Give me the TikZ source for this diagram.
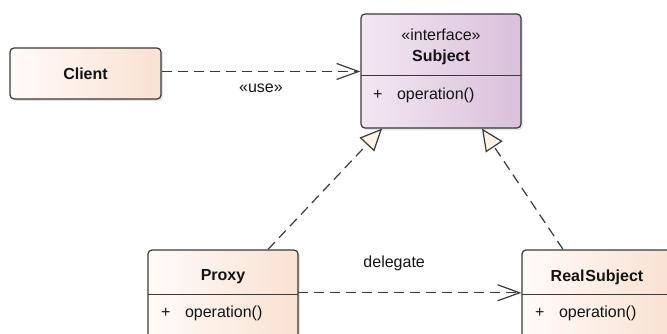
\documentclass[tikz,border=0pt]{standalone}
\usepackage{fontspec}
\setmainfont{Liberation Sans}
\usepackage{tikz}
\usetikzlibrary{arrows.meta,positioning,shadows}
\usepackage{xcolor}
\definecolor{peachL}{HTML}{FFFBF8}
\definecolor{peachR}{HTML}{F9E1D2}
\definecolor{lilacL}{HTML}{F3E7F2}
\definecolor{lilacR}{HTML}{DAC0DB}
\definecolor{tipfill}{HTML}{FDF4E6}
\definecolor{edge}{HTML}{3A3A3A}
\definecolor{ink}{HTML}{141414}
\newcommand{\umlfont}{\fontsize{16}{21}\selectfont}
\newcommand{\oper}{\makebox[24pt][l]{+}operation()}

\begin{document}
\begin{tikzpicture}[
  x=1pt, y=1pt,
  font=\umlfont, text=ink,
  cls/.style={draw=edge, line width=1.2pt, rounded corners=4pt,
              left color=#1L, right color=#1R,
              drop shadow={shadow xshift=2pt, shadow yshift=-2pt, opacity=0.22}},
  head/.style={inner sep=0pt, align=center, font=\umlfont\bfseries},
  member/.style={inner sep=0pt, anchor=west},
  sep/.style={draw=edge, line width=1.2pt},
  dep/.style={draw=edge, line width=1.2pt, dash pattern=on 10pt off 6pt,
              -{Straight Barb[length=22pt, width=16pt]}},
  real/.style={draw=edge, line width=1.2pt, dash pattern=on 10pt off 6pt,
               -{Triangle[length=22pt, width=20pt, fill=tipfill]}},
  lbl/.style={inner sep=0pt}
]
\useasboundingbox (0,0) rectangle (667,333);

% class boxes
\node[cls=peach, minimum width=151pt, minimum height=51pt] (client) at (85.5,259.5) {};
\node[cls=lilac, minimum width=160pt, minimum height=114pt] (subject) at (441,262) {};
\node[cls=peach, minimum width=150pt, minimum height=93pt] (proxy) at (223,36.5) {};
\node[cls=peach, minimum width=150pt, minimum height=93pt] (realsub) at (597,36.5) {};

% names
\node[head] (clientname) at ([yshift=0pt]client.center) {Client};
\node[head, anchor=north, minimum width=160pt, minimum height=62pt] (subjecthead) at (subject.north) {};
\node[head] (subjectname) at ([yshift=-2pt]subjecthead.center)
  {\fontseries{m}\selectfont «interface»\\Subject};
\node[head, anchor=north, minimum width=150pt, minimum height=45pt] (proxyhead) at (proxy.north) {};
\node[head] (proxyname) at ([yshift=-5pt]proxyhead.center) {Proxy};
\node[head, anchor=north, minimum width=150pt, minimum height=45pt] (realhead) at (realsub.north) {};
\node[head] (realname) at ([yshift=-5pt]realhead.center) {Real\kern1pt Subject};

% compartments
\draw[sep] (subjecthead.south west) -- (subjecthead.south east);
\draw[sep] (proxyhead.south west) -- (proxyhead.south east);
\draw[sep] (realhead.south west) -- (realhead.south east);
\node[member] (subjectop) at ([xshift=12pt, yshift=-20pt]subjecthead.south west) {\oper};
\node[member] (proxyop) at ([xshift=13pt, yshift=-19pt]proxyhead.south west) {\oper};
\node[member] (realop) at ([xshift=13pt, yshift=-19pt]realhead.south west) {\oper};

% relations
\draw[dep] ([yshift=2pt]client.east) -- ([yshift=2pt]client.east -| subject.west)
  node[lbl, midway, yshift=-17pt] {«use»};
\draw[dep] ([yshift=2pt]proxyhead.south east) -- ([yshift=2pt]proxyhead.south east -| realsub.west)
  node[lbl, pos=0.43, yshift=29pt] {delegate};
\draw[real] ([xshift=45pt]proxy.north) -- ([xshift=-59pt]subject.south);
\draw[real] ([xshift=-34pt]realsub.north) -- ([xshift=41pt]subject.south);
\end{tikzpicture}
\end{document}
